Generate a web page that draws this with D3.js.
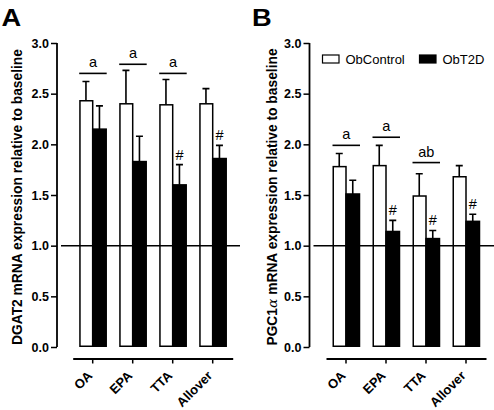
<!DOCTYPE html>
<html><head><meta charset="utf-8">
<script src="https://cdn.jsdelivr.net/npm/d3@7"></script>
<style>body{margin:0;background:#fff}svg{display:block}svg text{font-family:"Liberation Sans",Arial,sans-serif}</style>
</head><body>
<svg id="c" width="494" height="410"></svg>
<script>
const categories = ["OA","EPA","TTA","Allover"];
const seriesNames = ["ObControl","ObT2D"];
const yTicks = [0,0.5,1.0,1.5,2.0,2.5,3.0];
// Panel A: DGAT2
const dgatControl = [2.43,2.40,2.39,2.40];
const dgatControlErr = [2.62,2.73,2.64,2.55];
const dgatT2D = [2.15,1.83,1.60,1.86];
const dgatT2DErr = [2.38,2.08,1.80,1.99];
const dgatBracket = [2.70,2.79,2.70,null];
const dgatBracketLabel = ["a","a","a",null];
const dgatHash = [false,false,true,true];
// Panel B: PGC1a
const pgcControl = [1.78,1.79,1.49,1.68];
const pgcControlErr = [1.91,1.99,1.71,1.79];
const pgcT2D = [1.51,1.14,1.07,1.24];
const pgcT2DErr = [1.645,1.25,1.15,1.31];
const pgcBracket = [1.99,2.07,1.82,null];
const pgcBracketLabel = ["a","a","ab",null];
const pgcHash = [false,true,true,true];

const svg = d3.select("#c");
const FF = "'Liberation Sans',Arial,sans-serif";

function panel(o){
  const g = svg.append("g");
  const y = d3.scaleLinear().domain([0,3]).range([347,43]);
  const x0 = d3.scaleBand().domain(categories).range(o.xr).paddingInner(0).paddingOuter(0);
  const x1 = d3.scaleBand().domain(seriesNames).range([6.5,33.5]);
  // y axis
  const ya = g.append("g").attr("transform",`translate(${o.ax},0)`)
    .call(d3.axisLeft(y).tickValues(yTicks).tickFormat(d3.format(".1f")).tickSize(6).tickPadding(2));
  ya.attr("font-family",FF);
  ya.select(".domain").attr("stroke-width",1.8).attr("d",`M0,${y(3)}V${y(0)}`);
  ya.selectAll(".tick line").attr("stroke-width",1.5);
  ya.selectAll("text").attr("font-size",12.5).attr("font-weight","bold").attr("fill","#000");
  // y label
  const yl = g.append("text").attr("transform",`translate(${o.lx},197) rotate(-90)`)
    .attr("text-anchor","middle").attr("font-size",13.8).attr("font-weight","bold");
  o.label(yl);
  // bars
  const data = categories.map((c,i)=>({c, vals:[
    {s:seriesNames[0], v:o.ctrl[i], e:o.ctrlE[i]},
    {s:seriesNames[1], v:o.t2d[i], e:o.t2dE[i]}]}));
  const grp = g.selectAll(".grp").data(data).join("g").attr("transform",d=>`translate(${x0(d.c)},0)`);
  grp.selectAll(".err").data(d=>d.vals).join("path")
    .attr("d",d=>{const cx=x1(d.s)+x1.bandwidth()/2;return `M${cx},${y(d.v)}V${y(d.e)}M${cx-3.5},${y(d.e)}H${cx+3.5}`;})
    .attr("stroke","#000").attr("stroke-width",1.6).attr("fill","none");
  grp.selectAll("rect").data(d=>d.vals).join("rect")
    .attr("x",d=>x1(d.s)+(d.s===seriesNames[0]?0.75:0)).attr("width",d=>x1.bandwidth()-(d.s===seriesNames[0]?0.75:0))
    .attr("y",d=>y(d.v)).attr("height",d=>y(0)-y(d.v)-0.75)
    .attr("fill",d=>d.s===seriesNames[0]?"#fff":"#000").attr("stroke","#000").attr("stroke-width",1.5);
  // baseline at 1.0
  g.append("line").attr("x1",o.bl[0]).attr("x2",o.bl[1]).attr("y1",y(1)).attr("y2",y(1))
    .attr("stroke","#000").attr("stroke-width",1.5);
  // brackets
  categories.forEach((c,i)=>{
    if(o.br[i]==null) return;
    const xa = x0(c)+x1(seriesNames[0]), xb = x0(c)+x1(seriesNames[1])+x1.bandwidth()+0.5;
    g.append("line").attr("x1",xa).attr("x2",xb).attr("y1",y(o.br[i])).attr("y2",y(o.br[i]))
      .attr("stroke","#000").attr("stroke-width",1.6);
    g.append("text").attr("x",(xa+xb)/2).attr("y",y(o.br[i])-6).attr("text-anchor","middle")
      .attr("font-size",14.5).text(o.brl[i]);
  });
  // hashes
  categories.forEach((c,i)=>{
    if(!o.hash[i]) return;
    const cx = x0(c)+x1(seriesNames[1])+x1.bandwidth()/2;
    g.append("text").attr("x",cx).attr("y",y(o.t2dE[i])-5).attr("text-anchor","middle")
      .attr("font-size",14.5).text("#");
  });
  // x axis
  const xa = g.append("g").attr("transform",`translate(0,358.5)`)
    .call(d3.axisBottom(x0).tickSize(5).tickSizeOuter(0));
  xa.attr("font-family",FF);
  xa.select(".domain").attr("stroke-width",1.8);
  xa.selectAll(".tick line").attr("stroke-width",1.5);
  xa.selectAll("text").attr("font-size",13).attr("font-weight","bold").attr("fill","#000")
    .attr("text-anchor","end").attr("dy",null).attr("y",0)
    .attr("transform","translate(0.5,18) rotate(-45)");
  // panel letter
  g.append("text").attr("transform",`translate(${o.px},25.7) scale(1.15,1)`).attr("font-size",23.7)
    .attr("font-weight","bold").text(o.letter);
  return {g,y};
}

panel({ax:57,xr:[72.7,232.7],lx:22,bl:[61,240],ctrl:dgatControl,ctrlE:dgatControlErr,t2d:dgatT2D,t2dE:dgatT2DErr,
  br:dgatBracket,brl:dgatBracketLabel,hash:dgatHash,px:1.5,letter:"A",
  label:t=>t.text("DGAT2 mRNA expression relative to baseline")});
const pb = panel({ax:309.5,xr:[326,486],lx:277,bl:[313.5,494],ctrl:pgcControl,ctrlE:pgcControlErr,t2d:pgcT2D,t2dE:pgcT2DErr,
  br:pgcBracket,brl:pgcBracketLabel,hash:pgcHash,px:252,letter:"B",
  label:t=>{t.append("tspan").text("PGC1");t.append("tspan").attr("font-family","'DejaVu Serif',serif").attr("font-style","italic").attr("font-weight","normal").text("α");t.append("tspan").text(" mRNA expression relative to baseline");}});

// legend
const leg = pb.g.append("g");
const legX = [322.5, 419.5];
seriesNames.forEach((s,i)=>{
  leg.append("rect").attr("x",legX[i]).attr("y",55).attr("width",16.5).attr("height",8)
    .attr("fill",i===0?"#fff":"#000").attr("stroke","#000").attr("stroke-width",1.2);
  leg.append("text").attr("x",legX[i]+23).attr("y",63.5).attr("font-size",13).text(s);
});
</script>
</body></html>
